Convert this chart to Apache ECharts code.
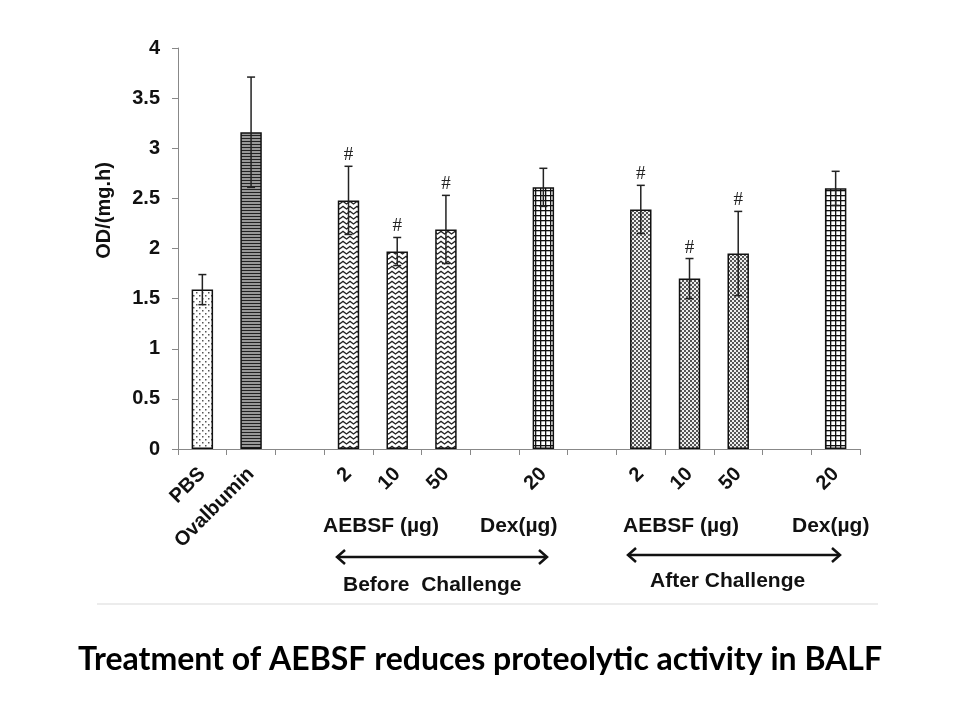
<!DOCTYPE html>
<html>
<head>
<meta charset="utf-8">
<script src="https://cdn.jsdelivr.net/npm/echarts@6/dist/echarts.min.js"></script>
<style>
html,body{margin:0;padding:0;background:#fff;}
#chart{width:960px;height:720px;}
</style>
</head>
<body>
<div id="chart"></div>
<script>
// ---- data ----
const categories = ['PBS', 'Ovalbumin', '', '2', '10', '50', '', '20', '', '2', '10', '50', '', '20'];
const values =     [1.59, 3.16, null, 2.48, 1.97, 2.19, null, 2.61, null, 2.39, 1.70, 1.95, null, 2.60];
const errors =     [0.15, 0.55, null, 0.34, 0.14, 0.34, null, 0.19, null, 0.24, 0.20, 0.42, null, 0.17];
const significant = [false, false, false, true, true, true, false, false, false, true, true, true, false, false];
const patternKeys = ['dots', 'hlines', null, 'zigzag', 'zigzag', 'zigzag', null, 'grid', null, 'checker', 'checker', 'checker', null, 'grid'];
const yTicks = { min: 0, max: 4, interval: 0.5 };

// ---- patterns ----
function makeCanvas(w, h, draw) {
  const c = document.createElement('canvas');
  c.width = w; c.height = h;
  const ctx = c.getContext('2d');
  ctx.fillStyle = '#fff';
  ctx.fillRect(0, 0, w, h);
  draw(ctx);
  return c;
}
const patterns = {
  dots: makeCanvas(6, 6, ctx => {
    ctx.fillStyle = '#555';
    ctx.fillRect(1, 1, 1.5, 1.5);
    ctx.fillRect(4, 4, 1.5, 1.5);
  }),
  hlines: makeCanvas(4, 3, ctx => {
    ctx.fillStyle = '#999';
    ctx.fillRect(0, 0, 4, 3);
    ctx.fillStyle = '#222';
    ctx.fillRect(0, 0, 4, 1);
  }),
  zigzag: makeCanvas(7, 5, ctx => {
    ctx.strokeStyle = '#222';
    ctx.lineWidth = 1.2;
    ctx.beginPath();
    ctx.moveTo(-0.5, 1);
    ctx.lineTo(3.5, 4);
    ctx.lineTo(7.5, 1);
    ctx.stroke();
  }),
  grid: makeCanvas(5, 5, ctx => {
    ctx.fillStyle = '#111';
    ctx.fillRect(0, 0, 5, 1.3);
    ctx.fillRect(0, 0, 1.3, 5);
  }),
  checker: makeCanvas(4, 4, ctx => {
    ctx.fillStyle = '#555';
    ctx.fillRect(0, 0, 4, 4);
    ctx.fillStyle = '#eee';
    ctx.fillRect(0, 0, 2, 2);
    ctx.fillRect(2, 2, 2, 2);
  })
};

const barData = values.map((v, i) => v == null ? null : {
  value: v,
  itemStyle: { color: { image: patterns[patternKeys[i]], repeat: 'repeat' } }
});
const errData = values.map((v, i) => v == null ? null : [i, v, errors[i], significant[i] ? 1 : 0]);

const chart = echarts.init(document.getElementById('chart'), null, { renderer: 'canvas' });
const font = 'Liberation Sans, Arial, sans-serif';
const annFont = 'bold 21px ' + font;

chart.setOption({
  animation: false,
  backgroundColor: '#fff',
  grid: { left: 178, right: 100, top: 48, bottom: 271 },
  xAxis: {
    type: 'category',
    data: categories,
    boundaryGap: true,
    axisLine: { lineStyle: { color: '#888', width: 1 } },
    axisTick: { show: true, length: 6, lineStyle: { color: '#888' }, interval: 0 },
    axisLabel: {
      interval: 0, rotate: 45, margin: 22,
      fontFamily: font, fontWeight: 'bold', fontSize: 20, color: '#111'
    }
  },
  yAxis: {
    type: 'value',
    min: yTicks.min, max: yTicks.max, interval: yTicks.interval,
    name: 'OD/(mg.h)',
    nameLocation: 'middle', nameRotate: 90, nameGap: 64,
    nameTextStyle: { fontFamily: font, fontWeight: 'bold', fontSize: 20, color: '#111', padding: [0, 0, 0, 76] },
    axisLine: { show: true, lineStyle: { color: '#888', width: 1 } },
    axisTick: { show: true, length: 6, lineStyle: { color: '#888' } },
    splitLine: { show: false },
    axisLabel: { margin: 18, fontFamily: font, fontWeight: 'bold', fontSize: 20, color: '#111' }
  },
  series: [
    {
      type: 'bar',
      data: barData,
      barWidth: '44%',
      itemStyle: { borderColor: '#111', borderWidth: 1.5 }
    },
    {
      type: 'custom',
      data: errData,
      z: 5,
      renderItem: function (params, api) {
        const i = api.value(0), v = api.value(1), e = api.value(2), sig = api.value(3);
        const top = api.coord([i, v + e]);
        const bot = api.coord([i, v - e]);
        const cap = 4;
        const style = { stroke: '#222', lineWidth: 1.5 };
        const children = [
          { type: 'line', shape: { x1: top[0], y1: top[1], x2: bot[0], y2: bot[1] }, style },
          { type: 'line', shape: { x1: top[0] - cap, y1: top[1], x2: top[0] + cap, y2: top[1] }, style },
          { type: 'line', shape: { x1: bot[0] - cap, y1: bot[1], x2: bot[0] + cap, y2: bot[1] }, style }
        ];
        if (sig) {
          children.push({
            type: 'text',
            style: {
              text: '#', x: top[0], y: top[1] - 11,
              align: 'center', verticalAlign: 'middle',
              font: '19px Liberation Serif, serif', fill: '#222'
            }
          });
        }
        return { type: 'group', children };
      }
    }
  ],
  graphic: [
    { type: 'text', left: 323, top: 516, style: { text: 'AEBSF (µg)', font: annFont, fill: '#111' } },
    { type: 'text', left: 480, top: 516, style: { text: 'Dex(µg)', font: annFont, fill: '#111' } },
    { type: 'text', left: 343, top: 575, style: { text: 'Before  Challenge', font: annFont, fill: '#111' } },
    { type: 'text', left: 623, top: 516, style: { text: 'AEBSF (µg)', font: annFont, fill: '#111' } },
    { type: 'text', left: 792, top: 516, style: { text: 'Dex(µg)', font: annFont, fill: '#111' } },
    { type: 'text', left: 650, top: 571, style: { text: 'After Challenge', font: annFont, fill: '#111' } },
    // arrows
    { type: 'polyline', shape: { points: [[345, 550], [337, 557], [345, 564]] }, style: { stroke: '#111', lineWidth: 2.5, fill: null } },
    { type: 'line', shape: { x1: 337, y1: 557, x2: 547, y2: 557 }, style: { stroke: '#111', lineWidth: 2.5 } },
    { type: 'polyline', shape: { points: [[539, 550], [547, 557], [539, 564]] }, style: { stroke: '#111', lineWidth: 2.5, fill: null } },
    { type: 'polyline', shape: { points: [[636, 548], [628, 555], [636, 562]] }, style: { stroke: '#111', lineWidth: 2.5, fill: null } },
    { type: 'line', shape: { x1: 628, y1: 555, x2: 840, y2: 555 }, style: { stroke: '#111', lineWidth: 2.5 } },
    { type: 'polyline', shape: { points: [[832, 548], [840, 555], [832, 562]] }, style: { stroke: '#111', lineWidth: 2.5, fill: null } },
    // separator
    { type: 'line', shape: { x1: 97, y1: 604, x2: 878, y2: 604 }, style: { stroke: '#e6e6e6', lineWidth: 1.5 } },
    // caption
    { type: 'text', left: 'center', top: 644, style: { text: 'Treatment of AEBSF reduces proteolytic activity in BALF', font: 'bold 32px Lato, sans-serif', fill: '#000' } }
  ]
});
</script>
</body>
</html>
